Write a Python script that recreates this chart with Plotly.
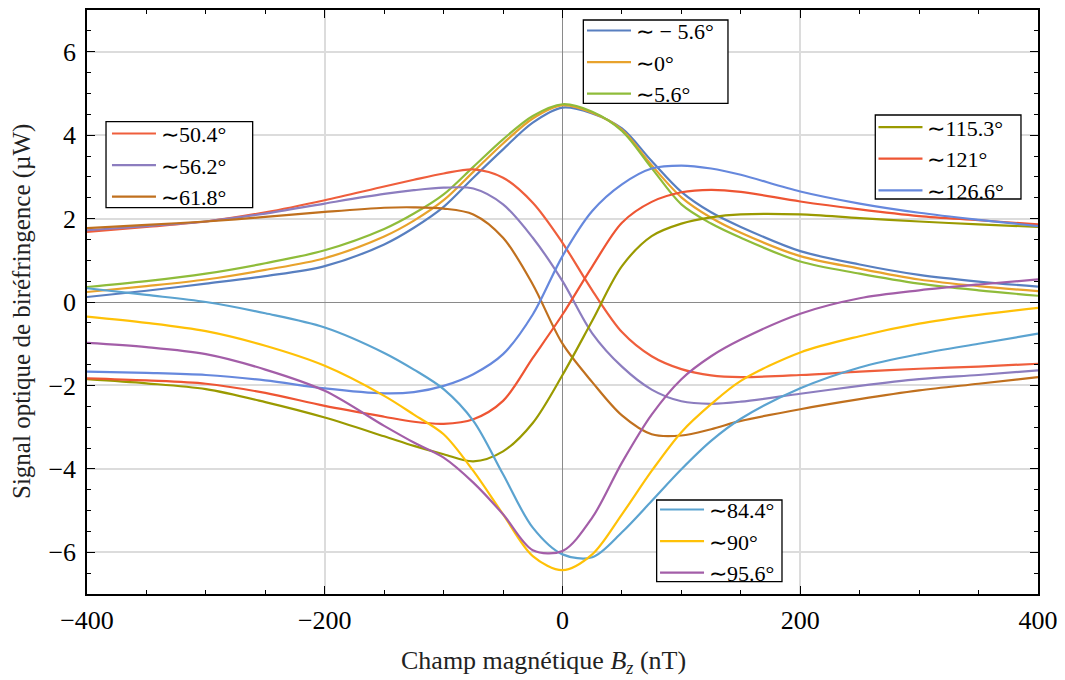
import plotly.graph_objects as go

# Magnetic field Bz (nT)
bz = [-400, -350, -300, -250, -200, -150, -125, -100, -75, -50, -25, 0, 25, 50, 75, 100, 125, 150, 200, 250, 300, 350, 400]

# Signals (µW)
s_m5_6 = [0.12, 0.27, 0.44, 0.62, 0.86, 1.38, 1.78, 2.28, 2.98, 3.66, 4.30, 4.66, 4.52, 4.16, 3.38, 2.64, 2.15, 1.80, 1.22, 0.90, 0.65, 0.49, 0.37]
s_0 = [0.24, 0.38, 0.54, 0.77, 1.05, 1.57, 1.95, 2.44, 3.12, 3.80, 4.40, 4.72, 4.54, 4.13, 3.28, 2.51, 2.02, 1.66, 1.10, 0.80, 0.54, 0.38, 0.26]
s_5_6 = [0.36, 0.50, 0.68, 0.93, 1.24, 1.75, 2.12, 2.58, 3.24, 3.90, 4.46, 4.74, 4.56, 4.10, 3.21, 2.34, 1.88, 1.54, 0.97, 0.68, 0.44, 0.28, 0.15]

s_50_4 = [1.68, 1.80, 1.93, 2.15, 2.44, 2.77, 2.93, 3.08, 3.18, 2.98, 2.38, 1.42, 0.28, -0.72, -1.30, -1.61, -1.76, -1.80, -1.75, -1.67, -1.60, -1.55, -1.48]
s_56_2 = [1.72, 1.82, 1.93, 2.12, 2.36, 2.59, 2.68, 2.74, 2.72, 2.34, 1.54, 0.50, -0.75, -1.55, -2.10, -2.38, -2.44, -2.39, -2.20, -2.01, -1.85, -1.75, -1.64]
s_61_8 = [1.77, 1.85, 1.93, 2.04, 2.16, 2.26, 2.27, 2.24, 2.10, 1.54, 0.42, -1.00, -1.92, -2.72, -3.17, -3.20, -3.05, -2.85, -2.57, -2.33, -2.12, -1.96, -1.80]

s_84_4 = [0.33, 0.17, 0.00, -0.27, -0.61, -1.22, -1.62, -2.09, -2.85, -4.13, -5.41, -6.05, -6.12, -5.52, -4.77, -4.01, -3.33, -2.80, -2.07, -1.57, -1.25, -1.00, -0.76]
s_90 = [-0.35, -0.50, -0.70, -1.05, -1.53, -2.25, -2.70, -3.17, -4.05, -5.09, -6.09, -6.43, -6.05, -5.09, -4.05, -3.12, -2.45, -1.89, -1.21, -0.82, -0.52, -0.31, -0.14]
s_95_6 = [-0.98, -1.08, -1.25, -1.62, -2.13, -2.97, -3.37, -3.73, -4.33, -5.09, -5.95, -5.97, -5.17, -3.85, -2.70, -1.85, -1.30, -0.90, -0.28, 0.09, 0.28, 0.42, 0.54]

s_115_3 = [-1.85, -1.95, -2.09, -2.40, -2.77, -3.22, -3.45, -3.65, -3.82, -3.58, -2.90, -1.75, -0.45, 0.86, 1.58, 1.88, 2.03, 2.10, 2.10, 2.01, 1.93, 1.86, 1.80]
s_121 = [-1.83, -1.88, -1.96, -2.18, -2.49, -2.75, -2.87, -2.92, -2.81, -2.37, -1.34, -0.30, 0.85, 1.90, 2.40, 2.63, 2.69, 2.64, 2.41, 2.22, 2.06, 1.96, 1.86]
s_126_6 = [-1.67, -1.70, -1.75, -1.88, -2.07, -2.19, -2.16, -2.01, -1.73, -1.25, -0.30, 1.10, 2.18, 2.82, 3.20, 3.27, 3.20, 3.05, 2.65, 2.36, 2.14, 1.97, 1.82]

series = [
    ("∼ − 5.6°", s_m5_6, "#587fc0", "legend"),
    ("∼0°", s_0, "#e8a22c", "legend"),
    ("∼5.6°", s_5_6, "#8fbc3a", "legend"),
    ("∼50.4°", s_50_4, "#ef5e3c", "legend2"),
    ("∼56.2°", s_56_2, "#8c7dbf", "legend2"),
    ("∼61.8°", s_61_8, "#c0701e", "legend2"),
    ("∼115.3°", s_115_3, "#9a9a00", "legend3"),
    ("∼121°", s_121, "#ee5533", "legend3"),
    ("∼126.6°", s_126_6, "#6688dd", "legend3"),
    ("∼84.4°", s_84_4, "#5ba3d0", "legend4"),
    ("∼90°", s_90, "#ffc107", "legend4"),
    ("∼95.6°", s_95_6, "#a35ea8", "legend4"),
]

FONT = "Liberation Serif"

fig = go.Figure()
for name, ys, color, leg in series:
    fig.add_trace(go.Scatter(
        x=bz, y=ys, name=name, mode="lines",
        line=dict(color=color, width=2.2, shape="spline", smoothing=0.9),
        legend=leg,
    ))

axis_common = dict(
    showline=True, linecolor="black", linewidth=1.5, mirror="allticks",
    ticks="inside", ticklen=8, tickwidth=1.3, tickcolor="black",
    showgrid=True, gridcolor="#dcdcdc", gridwidth=1.5,
    zeroline=True, zerolinecolor="#8a8a8a", zerolinewidth=1.3,
    tickfont=dict(family=FONT, size=26, color="black"),
    automargin=False,
)

fig.update_xaxes(
    range=[-400, 400], dtick=200, tick0=0,
    minor=dict(dtick=50, ticks="inside", ticklen=4, tickcolor="black", showgrid=False),
    ticklabelstandoff=2,
    **axis_common,
)
fig.update_yaxes(
    range=[-7, 7], dtick=2, tick0=0,
    minor=dict(dtick=0.5, ticks="inside", ticklen=4, tickcolor="black", showgrid=False),
    ticklabelstandoff=4,
    **axis_common,
)

# legend frames (drawn as white boxes over the curves)
boxes = [
    (0.5219, 0.6740, 0.8402, 0.9829),
    (0.0200, 0.1742, 0.6615, 0.8087),
    (0.8289, 0.9821, 0.6764, 0.8202),
    (0.5990, 0.7308, 0.0211, 0.1610),
]
for x0, x1, y0, y1 in boxes:
    fig.add_shape(type="rect", xref="paper", yref="paper", x0=x0, x1=x1, y0=y0, y1=y1,
                  fillcolor="white", line=dict(color="black", width=1.3), layer="above")

leg_common = dict(
    bgcolor="rgba(0,0,0,0)", borderwidth=0,
    font=dict(family=FONT, size=22, color="black"),
    itemwidth=44, tracegroupgap=0, xanchor="left", yanchor="top",
)

dy = 1.0 / 584
dx = 2.0 / 951
fig.update_layout(
    width=1057, height=672,
    margin=dict(l=79, r=27, t=2, b=86),
    plot_bgcolor="white", paper_bgcolor="white",
    showlegend=True,
    legend=dict(x=0.5184 + dx, y=0.9988 + dy, **leg_common),
    legend2=dict(x=0.0189 + dx, y=0.8224 + dy, **leg_common),
    legend3=dict(x=0.8249 + dx, y=0.8334 + dy, **leg_common),
    legend4=dict(x=0.5952 + dx, y=0.1786 + dy, **leg_common),
    annotations=[
        dict(text="Champ magnétique <i>B</i><sub><i>z</i></sub> (nT)", xref="paper", yref="paper",
             x=0.4795, y=-0.1164, xanchor="center", yanchor="middle", showarrow=False,
             font=dict(family=FONT, size=26, color="#222")),
        dict(text="Signal optique de biréfringence (µW)", xref="paper", yref="paper",
             x=-0.0683, y=0.483, xanchor="center", yanchor="middle", showarrow=False,
             textangle=-90, font=dict(family=FONT, size=25, color="#222")),
    ],
)

fig.write_html("out.html")
